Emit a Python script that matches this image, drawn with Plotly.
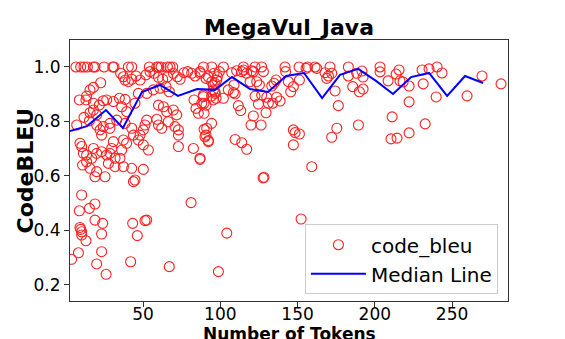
import plotly.graph_objects as go

# ── Scatter data: number of tokens vs CodeBLEU ───────────────────────────────
tokens = [
    6.6, 9.7, 11.8, 14.0, 17.9, 18.9, 24.8, 30.4, 31.2, 40.5, 42.7, 54.1, 58.9, 60.1, 61.7, 65.8, 67.5, 69.2,
    35.5, 37.3, 38.4, 40.5, 42.7, 45.5, 48.1, 51.9, 54.5, 57.1, 60.0, 62.7, 65.8, 69.6, 72.2, 74.0, 76.5, 78.9,
    81.5, 83.7, 86.9, 92.3, 96.0, 97.7, 95.5, 22.6, 17.9, 15.7, 13.5, 8.8, 13.1, 17.9, 21.7, 24.3, 26.5, 30.8,
    34.7, 38.4, 36.2, 39.4, 17.9, 15.7, 20.0, 11.8, 15.3, 7.1, 20.0, 22.2, 23.2, 28.6, 28.6, 24.3, 33.0, 38.4,
    44.8, 47.0, 52.4, 56.7, 61.0, 64.9, 67.0, 60.0, 63.2, 65.3, 69.6, 71.8, 66.4, 70.7, 72.9, 72.9, 58.9, 60.0,
    62.1, 52.4, 51.3, 50.2, 48.1, 47.0, 50.2, 53.5, 42.7, 43.8, 37.3, 39.4, 36.2, 30.8, 29.7, 28.6, 31.9, 35.1,
    26.5, 23.2, 20.0, 17.9, 16.8, 13.5, 11.4, 10.3, 9.2, 10.9, 15.7, 13.5, 20.0, 18.9, 25.4, 27.6, 31.9, 37.3,
    42.7, 50.2, 44.8, 43.8, 72.9, 82.6, 86.9, 91.2, 90.1, 92.3, 94.4, 84.3, 85.8, 83.0, 88.0, 89.0, 94.4, 95.5,
    96.6,
    10.3, 8.8, 15.3, 18.9, 18.9, 23.9, 9.2, 9.7, 10.3, 10.3, 13.1, 23.2, 8.2, 23.2, 20.0, 26.1, 3.8, 43.3,
    46.3, 51.3, 52.4, 42.0, 67.0, 81.1, 98.8, 104.2, 152.3, 127.7,
    89.1, 94.5, 102.0, 86.9, 90.8, 94.5, 96.6, 98.1, 99.4, 95.5, 96.6, 97.3, 89.1, 89.5, 90.8, 89.5, 102.0,
    105.2, 108.5, 109.6, 108.9, 107.4, 110.6, 113.9, 115.0, 117.1, 120.3, 122.5, 121.4, 126.8, 127.9, 119.3,
    123.6, 125.3, 122.5, 126.8, 130.1, 124.7, 131.1, 133.9, 136.5, 138.7, 133.3, 134.8, 136.1, 111.7, 113.2,
    121.4, 119.9, 126.4, 129.6, 141.9, 142.3, 144.1, 145.6, 147.3, 151.2, 151.0, 155.5, 156.4, 161.3, 162.4,
    167.8, 168.9, 170.0, 172.1, 171.0, 174.3, 176.4, 182.9, 182.9, 185.7, 188.3, 190.0, 189.4, 175.4, 172.1,
    89.5, 90.8, 92.3, 109.6, 113.9, 117.1, 147.3, 148.4, 151.2, 147.3, 86.9, 159.2, 128.3, 115.0,
    203.4, 203.4, 215.7, 213.8, 230.6, 235.1, 240.3, 243.5, 269.4, 281.7, 191.7, 192.4, 208.6, 216.3, 218.3,
    222.2, 231.3, 222.2, 239.7, 259.7, 211.2, 232.6, 210.5, 214.4, 222.2, 192.4,
]
code_bleu = [
    1.0, 1.0, 1.0, 1.0, 1.0, 1.0, 1.0, 1.0, 1.0, 1.0, 1.0, 1.0, 1.0, 1.0, 1.0, 1.0, 1.0, 1.0,
    0.977, 0.964, 0.952, 0.946, 0.955, 0.967, 0.952, 0.971, 0.983, 0.977, 0.962, 0.955, 0.964, 0.977, 0.964,
    0.955, 0.979, 0.983, 0.977, 0.967, 0.983, 0.964, 0.977, 0.952, 0.934, 0.942, 0.925, 0.916, 0.893, 0.879,
    0.879, 0.867, 0.860, 0.876, 0.879, 0.873, 0.885, 0.881, 0.854, 0.836, 0.842, 0.832, 0.824, 0.815, 0.802,
    0.787, 0.787, 0.769, 0.750, 0.775, 0.793, 0.781, 0.805, 0.793, 0.867, 0.903, 0.903, 0.916, 0.922, 0.928,
    0.909, 0.860, 0.854, 0.836, 0.842, 0.824, 0.799, 0.781, 0.769, 0.750, 0.808, 0.787, 0.775, 0.805, 0.787,
    0.769, 0.750, 0.732, 0.714, 0.695, 0.775, 0.750, 0.732, 0.720, 0.695, 0.726, 0.701, 0.683, 0.665, 0.665,
    0.677, 0.689, 0.683, 0.701, 0.665, 0.677, 0.683, 0.708, 0.720, 0.640, 0.628, 0.652, 0.616, 0.597, 0.597,
    0.646, 0.634, 0.634, 0.628, 0.624, 0.585, 0.579, 0.708, 0.701, 0.665, 0.775, 0.744, 0.726, 0.793, 0.848,
    0.830, 0.879, 0.867, 0.891, 0.893, 0.879, 0.909,
    0.530, 0.472, 0.481, 0.497, 0.438, 0.426, 0.411, 0.404, 0.395, 0.383, 0.362, 0.387, 0.318, 0.322, 0.277,
    0.239, 0.294, 0.426, 0.381, 0.436, 0.438, 0.285, 0.267, 0.502, 0.249, 0.390, 0.442, 0.593,
    1.0, 1.0, 1.0, 0.977, 0.958, 0.946, 0.940, 0.964, 0.983, 0.916, 0.903, 0.885, 0.897, 0.867, 0.860, 0.830,
    0.885, 0.916, 0.906, 0.901, 0.934, 0.979, 0.986, 0.983, 0.989, 0.977, 0.986, 1.0, 0.983, 1.0, 0.983,
    0.946, 0.946, 0.934, 0.893, 0.897, 0.889, 0.864, 0.867, 0.867, 0.889, 0.875, 0.930, 0.940, 0.952, 0.858,
    0.840, 0.820, 0.787, 0.787, 0.832, 1.0, 0.983, 0.946, 0.909, 0.928, 0.952, 1.0, 0.995, 1.0, 1.0, 0.995,
    0.979, 0.958, 0.967, 0.977, 1.0, 0.912, 0.858, 1.0, 0.967, 0.928, 0.977, 0.909, 0.787, 0.775, 0.742,
    0.771, 0.750, 0.730, 0.734, 0.722, 0.698, 0.769, 0.759, 0.754, 0.714, 0.661, 0.634, 0.595, 1.0,
    1.0, 0.982, 0.989, 0.974, 0.989, 0.993, 1.0, 0.978, 0.967, 0.938, 0.985, 0.919, 0.949, 0.949, 0.945,
    0.930, 0.938, 0.872, 0.890, 0.894, 0.817, 0.791, 0.736, 0.739, 0.758, 0.963,
]

# ── Median line (binned) ─────────────────────────────────────────────────────
median_x = [2.75, 13.8, 26.0, 37.0, 49.3, 61.0, 72.6, 85.0, 96.6, 107.6, 119.3, 130.9,
            142.6, 154.2, 165.9, 177.5, 189.2, 200.8, 211.8, 223.5, 235.1, 246.8, 258.4, 270.1]
median_y = [0.765, 0.783, 0.842, 0.776, 0.908, 0.934, 0.894, 0.919, 0.916, 0.963, 0.919, 0.908,
            0.967, 0.978, 0.886, 0.971, 0.993, 0.949, 0.901, 0.963, 0.978, 0.894, 0.967, 0.941]

x_ticks = [50, 100, 150, 200, 250]
y_ticks = [0.2, 0.4, 0.6, 0.8, 1.0]

FONT = "DejaVu Sans"

fig = go.Figure()
fig.add_trace(go.Scatter(
    x=tokens, y=code_bleu,
    mode="markers", name="code_bleu",
    marker=dict(symbol="circle-open", size=10, color="#ff2020",
                line=dict(width=1.1, color="#ff2020")),
))
fig.add_trace(go.Scatter(
    x=median_x, y=median_y,
    mode="lines", name="Median Line",
    line=dict(color="#0000ff", width=2),
))

axis_common = dict(
    showgrid=False, zeroline=False, automargin=False,
    showline=True, linecolor="#333333", linewidth=1.2, mirror=True,
    ticks="outside", ticklen=5, tickwidth=1, tickcolor="#333333",
    tickfont=dict(family=FONT, size=17, color="black"),
)

# page body adds an 8px margin, so the figure is 8px smaller than the window
fig.update_layout(
    width=557, height=331,
    paper_bgcolor="white", plot_bgcolor="white",
    font=dict(family=FONT, color="black"),
    margin=dict(l=62, r=57, t=32, b=38),
    title=dict(text="<b>MegaVul_Java</b>", x=0.5, xref="paper",
               y=1 - 19 / 331, yref="container", yanchor="middle",
               font=dict(family=FONT, size=22, color="black")),
    xaxis=dict(axis_common, range=[2.75, 286.2], tickvals=x_ticks, ticklabelstandoff=-8),
    yaxis=dict(axis_common, range=[0.141, 1.099], tickvals=y_ticks, tickformat=".1f"),
    legend=dict(x=0.977, y=0.026, xanchor="right", yanchor="bottom",
                bgcolor="rgba(255,255,255,0.85)", bordercolor="#cccccc", borderwidth=1,
                font=dict(family=FONT, size=20, color="black"),
                itemwidth=55, tracegroupgap=4),
)

fig.add_annotation(text="<b>Number of Tokens</b>", xref="paper", yref="paper",
                   x=0.5, y=-0.0805, xanchor="center", yanchor="top", showarrow=False,
                   font=dict(family=FONT, size=17, color="black"))
fig.add_annotation(text="<b>CodeBLEU</b>", xref="paper", yref="paper",
                   x=-0.1027, y=0.5, xanchor="center", yanchor="middle", showarrow=False,
                   textangle=-90, font=dict(family=FONT, size=22, color="black"))

fig.write_html("out.html")
